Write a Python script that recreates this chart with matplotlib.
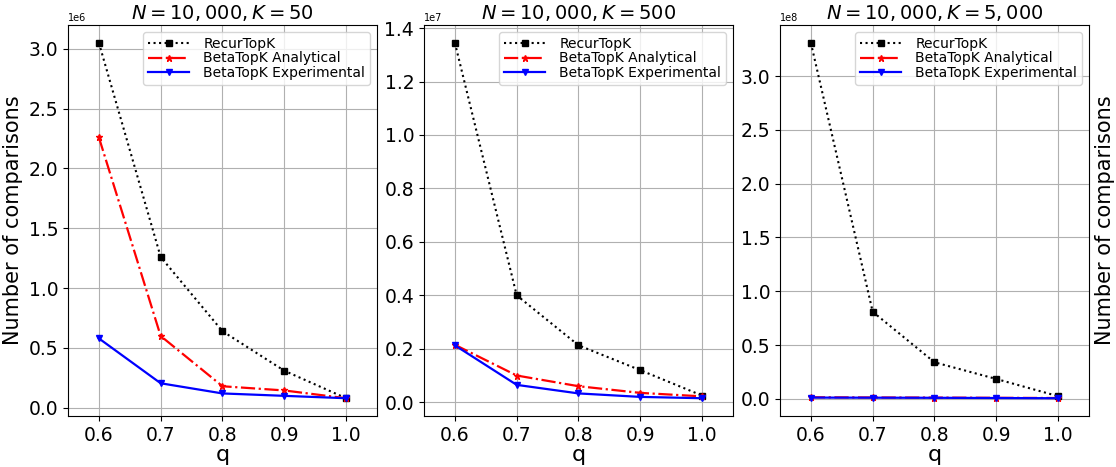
import matplotlib

matplotlib.use("Agg")
import matplotlib.pyplot as plt

q = [0.6, 0.7, 0.8, 0.9, 1.0]

# K = 50
recur_50 = [3.05e6, 1.26e6, 0.64e6, 0.31e6, 0.08e6]
ana_50 = [2.26e6, 0.60e6, 0.18e6, 0.145e6, 0.08e6]
exp_50 = [0.58e6, 0.205e6, 0.12e6, 0.10e6, 0.08e6]

# K = 500
recur_500 = [1.345e7, 0.40e7, 0.213e7, 0.12e7, 0.025e7]
ana_500 = [0.215e7, 0.10e7, 0.06e7, 0.035e7, 0.022e7]
exp_500 = [0.213e7, 0.065e7, 0.033e7, 0.02e7, 0.015e7]

# K = 5000
recur_5000 = [3.31e8, 0.81e8, 0.34e8, 0.185e8, 0.025e8]
ana_5000 = [0.015e8, 0.013e8, 0.012e8, 0.010e8, 0.008e8]
exp_5000 = [0.012e8, 0.011e8, 0.010e8, 0.008e8, 0.006e8]

titles = [r"$N=10,000, K=50$", r"$N=10,000, K=500$", r"$N=10,000, K=5,000$"]
panels = [
    (recur_50, ana_50, exp_50),
    (recur_500, ana_500, exp_500),
    (recur_5000, ana_5000, exp_5000),
]

fig = plt.figure(figsize=(11.16, 4.67), dpi=100)
lefts = [0.0609, 0.3799, 0.6989]
for i, (recur, ana, expe) in enumerate(panels):
    ax = fig.add_axes([lefts[i], 0.1092, 0.2769, 0.8373])
    ax.plot(q, recur, "k:s", markersize=5, label="RecurTopK")
    ax.plot(q, ana, "r-.*", markersize=5, linewidth=1.6, label="BetaTopK Analytical")
    ax.plot(q, expe, "b-v", markersize=5, linewidth=1.6, label="BetaTopK Experimental")
    ax.grid(True)
    ax.set_xlim(0.55, 1.05)
    ax.set_title(titles[i], fontsize=14, pad=4)
    ax.set_xlabel("q", fontsize=16, labelpad=0)
    ax.set_xticks(q)
    ax.tick_params(labelsize=13.5)
    ax.yaxis.get_offset_text().set_fontsize(7)
    ax.legend(loc="upper right", fontsize=10, handlelength=3.0,
              handletextpad=1.0, borderpad=0.35, labelspacing=0.05)
    if i == 0:
        ax.set_ylabel("Number of comparisons", fontsize=15)
    if i == 2:
        ax.yaxis.set_label_position("right")
        ax.set_ylabel("Number of comparisons", fontsize=15)

plt.savefig("out.png", dpi=100)
